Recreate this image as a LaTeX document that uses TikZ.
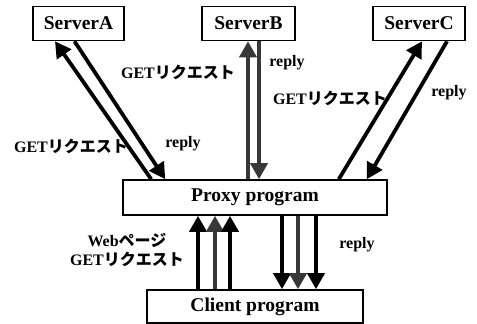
\documentclass[tikz,border=0pt]{standalone}
\usepackage{fontspec}
\setmainfont{Liberation Serif}
\newfontfamily\jpfont{Noto Sans CJK JP}
\usetikzlibrary{arrows.meta}

\newcommand{\getreq}{GET{\jpfont\bfseries リクエスト}}

\begin{document}
\begin{tikzpicture}[x=1pt,y=-1pt,
	box/.style={draw,line width=1.6pt,inner sep=0pt,font=\fontsize{19.5}{22}\selectfont\bfseries},
	lbl/.style={inner sep=0pt,font=\fontsize{16}{19}\selectfont\bfseries},
	arr/.style={line width=3.8pt,-{Triangle[length=16pt,width=17pt]}},
	halftone/.style={draw=black!78}]
	\useasboundingbox (0,0) rectangle (477,324);

	% servers
	\node[box,minimum width=91pt,minimum height=34pt] (srvA) at (78.5,23.5) {ServerA};
	\node[box,minimum width=93pt,minimum height=34pt] (srvB) at (248.5,23.5) {ServerB};
	\node[box,minimum width=92pt,minimum height=34pt] (srvC) at (419,23.5) {ServerC};
	% proxy and client
	\node[box,minimum width=264pt,minimum height=35pt] (pxy) at (255,197.5) {Proxy program};
	\node[box,minimum width=216pt,minimum height=33pt] (cli) at (255,306.5) {Client program};

	% ServerA
	\draw[arr] ([xshift=29pt]pxy.north west) -- ([xshift=-23.5pt]srvA.south);
	\draw[arr] ([xshift=-4pt]srvA.south) -- ([xshift=43pt]pxy.north west);
	\node[lbl] (reqA) at (71,146) {\getreq};
	\node[lbl] (repA) at (183,144) {reply};

	% ServerB
	\draw[arr,halftone] ([xshift=-7pt]pxy.north) -- ([xshift=-0.5pt]srvB.south);
	\draw[arr,halftone] ([xshift=10.5pt]srvB.south) -- ([xshift=4pt]pxy.north);
	\node[lbl] (reqB) at (178,72) {\getreq};
	\node[lbl] (repB) at (287,63) {reply};

	% ServerC
	\draw[arr] ([xshift=-49pt]pxy.north east) -- ([xshift=3pt]srvC.south);
	\draw[arr] ([xshift=28pt]srvC.south) -- ([xshift=-21pt]pxy.north east);
	\node[lbl] (reqC) at (330,98) {\getreq};
	\node[lbl] (repC) at (449,93) {reply};

	% client <-> proxy
	\foreach \d [count=\i] in {-57,-40,-25} {
		\ifnum\i=2
			\draw[arr,halftone] ([xshift=\d pt]cli.north) -- ([xshift=\d pt]pxy.south);
		\else
			\draw[arr] ([xshift=\d pt]cli.north) -- ([xshift=\d pt]pxy.south);
		\fi
	}
	\foreach \d [count=\i] in {27,43,61} {
		\ifnum\i=2
			\draw[arr,halftone] ([xshift=\d pt]pxy.south) -- ([xshift=\d pt]cli.north);
		\else
			\draw[arr] ([xshift=\d pt]pxy.south) -- ([xshift=\d pt]cli.north);
		\fi
	}
	\node[lbl,align=center] (reqP) at (127,250) {Web{\jpfont\bfseries ページ}\\\getreq};
	\node[lbl] (repP) at (357,245) {reply};

\end{tikzpicture}
\end{document}
